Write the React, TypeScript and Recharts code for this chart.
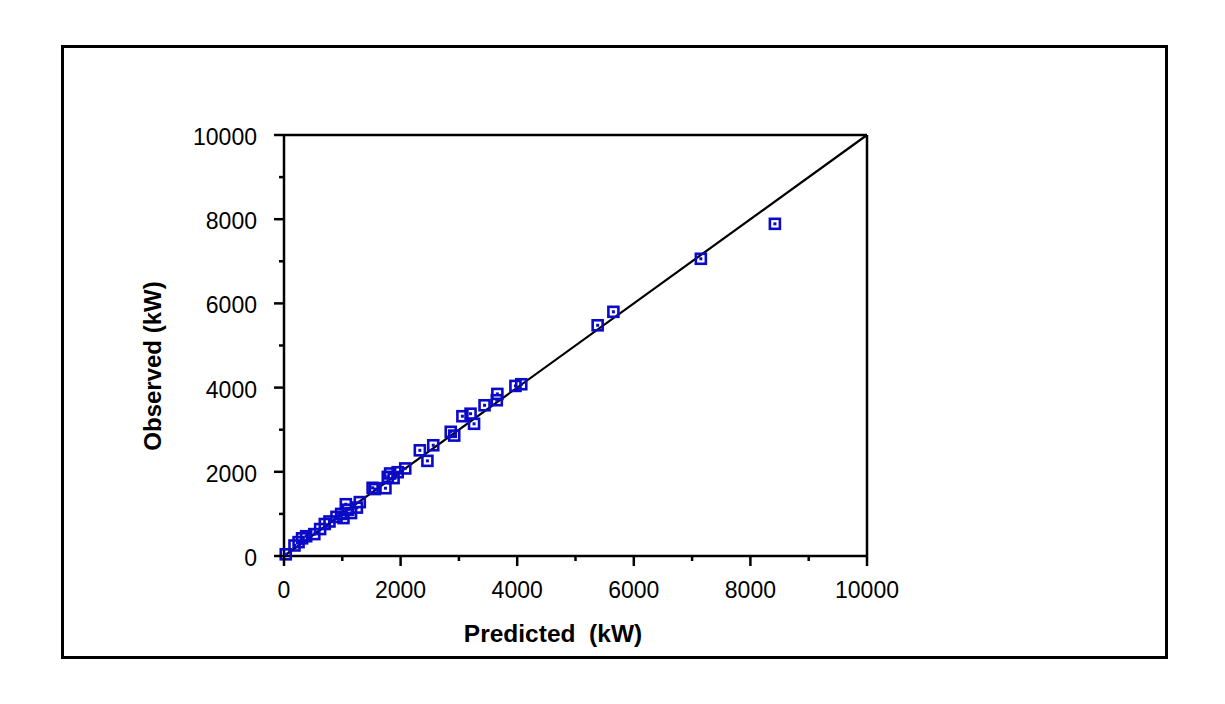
import React from 'react';
import { ScatterChart, Scatter, XAxis, YAxis, ReferenceLine } from 'recharts';

const predicted = [30, 180, 250, 310, 380, 520, 620, 700, 780, 900, 980, 1020, 1060, 1100, 1150, 1250, 1300, 1520, 1560, 1740, 1780, 1820, 1880, 1950, 2080, 2330, 2460, 2560, 2860, 2920, 3060, 3200, 3260, 3440, 3660, 3650, 3970, 4070, 5380, 5650, 7150, 8420];
const observed = [40, 250, 330, 420, 470, 520, 640, 760, 820, 930, 1000, 900, 1230, 1100, 1020, 1150, 1280, 1620, 1590, 1610, 1880, 1960, 1850, 1990, 2080, 2510, 2260, 2630, 2950, 2860, 3320, 3380, 3140, 3580, 3850, 3700, 4040, 4080, 5480, 5800, 7060, 7890];
const axisTicks = [0, 1000, 2000, 3000, 4000, 5000, 6000, 7000, 8000, 9000, 10000];

const data = predicted.map((p, i) => ({ x: p, y: observed[i] }));

const FONT = '"Liberation Sans", Arial, sans-serif';
const BLUE = '#0A0AC8';

const XTick = (props: any) => {
  const { x, y, payload } = props;
  const major = payload.value % 2000 === 0;
  return (
    <g>
      <line x1={x} y1={y} x2={x} y2={y + (major ? 10 : 5)} stroke="#000" strokeWidth={2.5} />
      {major && (
        <text x={x} y={y + 42} textAnchor="middle" fontFamily={FONT} fontSize={23} fill="#000">
          {payload.value}
        </text>
      )}
    </g>
  );
};

const YTick = (props: any) => {
  const { x, y, payload } = props;
  const major = payload.value % 2000 === 0;
  return (
    <g>
      <line x1={x} y1={y} x2={x - (major ? 10 : 5)} y2={y} stroke="#000" strokeWidth={2.5} />
      {major && (
        <text x={x - 27} y={y + 10} textAnchor="end" fontFamily={FONT} fontSize={23} fill="#000">
          {payload.value}
        </text>
      )}
    </g>
  );
};

const Marker = (props: any) => {
  const { cx, cy } = props;
  return (
    <g>
      <rect x={cx - 5} y={cy - 5} width={10} height={10} fill="none" stroke={BLUE} strokeWidth={2.6} />
      <rect x={cx - 1.5} y={cy - 1.5} width={3} height={3} fill={BLUE} />
    </g>
  );
};

export default function App() {
  return (
    <div style={{ position: 'absolute', left: 0, top: 0, width: 1225, height: 704, background: '#fff' }}>
      <div
        style={{
          position: 'absolute',
          left: 61,
          top: 45,
          width: 1107,
          height: 614,
          border: '3px solid #000',
          boxSizing: 'border-box',
        }}
      />
      <div style={{ position: 'absolute', left: 0, top: 0 }}>
        <ScatterChart width={1225} height={704} margin={{ top: 135, right: 358, bottom: 108, left: 224 }}>
          <XAxis
            type="number"
            dataKey="x"
            domain={[0, 10000]}
            ticks={axisTicks}
            interval={0}
            tickSize={0}
            tickMargin={0}
            height={40}
            tick={<XTick />}
            axisLine={{ stroke: '#000', strokeWidth: 2.5 }}
            label={() => (
              <text x={553} y={642} textAnchor="middle" fontFamily={FONT} fontSize={24.5} fontWeight="bold" fill="#000" style={{ whiteSpace: 'pre' }}>
                Predicted  (kW)
              </text>
            )}
          />
          <YAxis
            type="number"
            dataKey="y"
            domain={[0, 10000]}
            ticks={axisTicks}
            interval={0}
            tickSize={0}
            tickMargin={0}
            width={60}
            tick={<YTick />}
            axisLine={{ stroke: '#000', strokeWidth: 2.5 }}
            label={() => (
              <text
                x={161}
                y={366}
                textAnchor="middle"
                fontFamily={FONT}
                fontSize={24}
                fontWeight="bold"
                fill="#000"
                transform="rotate(-90 161 366)"
              >
                Observed (kW)
              </text>
            )}
          />
          <ReferenceLine y={10000} stroke="#000" strokeWidth={2.5} />
          <ReferenceLine x={10000} stroke="#000" strokeWidth={2.5} />
          <Scatter data={data} shape={<Marker />} isAnimationActive={false} />
          <ReferenceLine
            segment={[
              { x: 0, y: 0 },
              { x: 10000, y: 10000 },
            ]}
            stroke="#000"
            strokeWidth={2.2}
          />
        </ScatterChart>
      </div>
    </div>
  );
}
